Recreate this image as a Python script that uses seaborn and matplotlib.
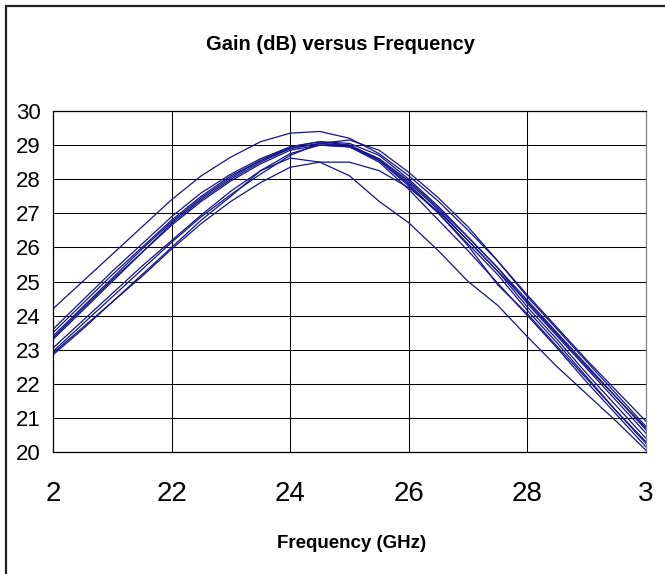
import numpy as np
import pandas as pd
import matplotlib
matplotlib.use("Agg")
import matplotlib.pyplot as plt
import seaborn as sns
from matplotlib.patches import Rectangle

# ---- data ----
freq = [20.0, 20.5, 21.0, 21.5, 22.0, 22.5, 23.0, 23.5, 24.0, 24.5, 25.0,
        25.5, 26.0, 26.5, 27.0, 27.5, 28.0, 28.5, 29.0, 29.5, 30.0]

gain_t  = [24.20, 25.00, 25.80, 26.60, 27.40, 28.10, 28.65, 29.10, 29.35, 29.40, 29.20,
           28.75, 28.10, 27.35, 26.50, 25.60, 24.55, 23.60, 22.65, 21.70, 20.75]
gain_c1 = [23.60, 24.45, 25.30, 26.10, 26.90, 27.60, 28.15, 28.60, 28.95, 29.10, 29.05,
           28.70, 28.00, 27.20, 26.30, 25.40, 24.35, 23.40, 22.45, 21.50, 20.55]
gain_c2 = [23.50, 24.35, 25.20, 26.00, 26.80, 27.50, 28.10, 28.55, 28.95, 29.10, 29.00,
           28.60, 27.90, 27.10, 26.20, 25.30, 24.25, 23.30, 22.30, 21.35, 20.40]
gain_c3 = [23.40, 24.25, 25.10, 25.95, 26.75, 27.45, 28.05, 28.55, 28.90, 29.05, 29.00,
           28.55, 27.80, 27.00, 26.10, 25.20, 24.15, 23.20, 22.20, 21.20, 20.25]
gain_c4 = [23.30, 24.15, 25.00, 25.85, 26.70, 27.40, 28.00, 28.50, 28.90, 29.05, 28.95,
           28.50, 27.70, 26.80, 25.90, 24.95, 24.00, 23.05, 22.05, 21.10, 20.15]
gain_c5 = [23.35, 24.20, 25.05, 25.85, 26.65, 27.35, 27.95, 28.45, 28.85, 29.00, 28.95,
           28.60, 27.95, 27.15, 26.30, 25.40, 24.45, 23.50, 22.55, 21.60, 20.65]
gain_l1 = [22.95, 23.75, 24.55, 25.35, 26.15, 26.90, 27.55, 28.15, 28.70, 29.05, 29.15,
           28.85, 28.20, 27.45, 26.60, 25.60, 24.60, 23.65, 22.70, 21.80, 20.90]
gain_l2 = [22.85, 23.60, 24.40, 25.20, 26.00, 26.80, 27.50, 28.25, 28.62, 28.50, 28.10,
           27.35, 26.72, 25.90, 25.00, 24.30, 23.38, 22.50, 21.70, 20.90, 20.05]
gain_l3 = [22.90, 23.65, 24.40, 25.15, 25.95, 26.70, 27.35, 27.90, 28.35, 28.50, 28.50,
           28.25, 27.75, 27.05, 26.20, 25.30, 24.40, 23.45, 22.50, 21.60, 20.70]
gain_l4 = [23.05, 23.85, 24.65, 25.45, 26.20, 26.95, 27.65, 28.25, 28.75, 29.00, 28.95,
           28.55, 27.85, 27.00, 26.05, 24.90, 24.05, 23.10, 22.15, 21.20, 20.30]

traces = {"t": gain_t, "c1": gain_c1, "c2": gain_c2, "c3": gain_c3, "c4": gain_c4,
          "c5": gain_c5, "l1": gain_l1, "l2": gain_l2, "l3": gain_l3, "l4": gain_l4}

x_ticks = [20, 22, 24, 26, 28, 30]
x_tick_labels = ["2", "22", "24", "26", "28", "3"]
y_ticks = [20, 21, 22, 23, 24, 25, 26, 27, 28, 29, 30]
y_tick_labels = ["20", "21", "22", "23", "24", "25", "26", "27", "28", "29", "30"]

title = "Gain (dB) versus Frequency"
xlabel = "Frequency (GHz)"

df = pd.concat([pd.DataFrame({"freq": freq, "gain": g, "trace": k})
                for k, g in traces.items()], ignore_index=True)

# ---- style ----
sns.set_style("white")
plt.rcParams["font.family"] = ["Liberation Sans", "DejaVu Sans"]
plt.rcParams["text.color"] = "black"
plt.rcParams["xtick.labelcolor"] = "black"
plt.rcParams["ytick.labelcolor"] = "black"

W, H = 665, 574
fig = plt.figure(figsize=(W / 100, H / 100), dpi=100)
ax = fig.add_axes([53 / W, (H - 452) / H, (646 - 53) / W, (452 - 111) / H])

sns.lineplot(data=df, x="freq", y="gain", units="trace", estimator=None,
             color="#14148a", linewidth=0.9, ax=ax, legend=False)

ax.set_xlim(20, 30)
ax.set_ylim(20, 30)
ax.set_xticks(x_ticks)
ax.set_xticklabels(x_tick_labels, fontsize=20, color="black")
ax.set_yticks(y_ticks)
ax.set_yticklabels(y_tick_labels, fontsize=16, color="black")
ax.tick_params(axis="x", direction="out", length=7, width=0.9, color="black", pad=14)
ax.tick_params(axis="y", direction="out", length=5, width=0.9, color="black", pad=4)
ax.grid(True, color="black", linewidth=0.75)
ax.set_axisbelow(True)
for s in ax.spines.values():
    s.set_visible(True)
    s.set_color("black")
    s.set_linewidth(0.9)
ax.spines["right"].set_color("#808080")
ax.set_xlabel("")
ax.set_ylabel("")

fig.text(340 / W, 1 - 44 / H, title, ha="center", va="center",
         fontsize=14.5, fontweight="bold", color="black")
fig.text(352 / W, 1 - 543 / H, xlabel, ha="center", va="center",
         fontsize=13.5, fontweight="bold", color="black")

fig.patches.append(Rectangle((6 / W, -0.2), 1.2, 1 - 6 / H + 0.2,
                             transform=fig.transFigure, fill=False,
                             edgecolor="#222222", linewidth=1.6))

fig.savefig("out.png", dpi=100)
